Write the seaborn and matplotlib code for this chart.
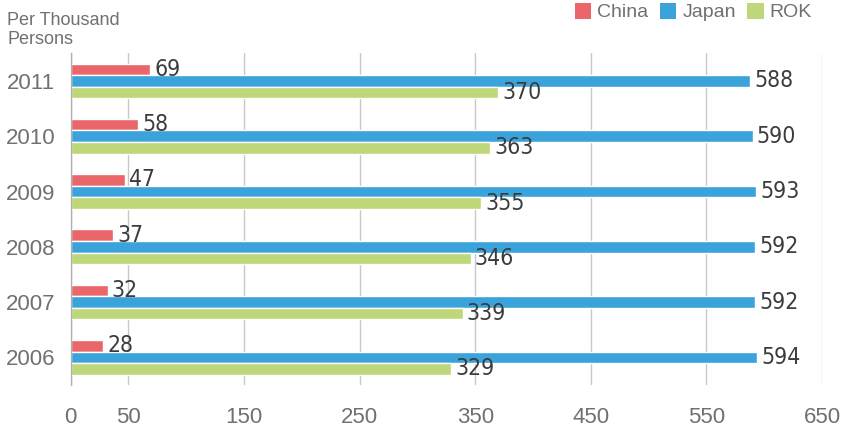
import pandas as pd
import seaborn as sns
import matplotlib.pyplot as plt
from matplotlib.patches import Patch

# values (per thousand persons)
years = ['2011', '2010', '2009', '2008', '2007', '2006']
china = [69, 58, 47, 37, 32, 28]
japan = [588, 590, 593, 592, 592, 594]
rok = [370, 363, 355, 346, 339, 329]
countries = ['China', 'Japan', 'ROK']
colors = ['#EA666A', '#3BA3DC', '#BED778']
xticks = [0, 50, 150, 250, 350, 450, 550, 650]

df = pd.DataFrame({
    'Year': years * 3,
    'Country': ['China'] * 6 + ['Japan'] * 6 + ['ROK'] * 6,
    'Value': china + japan + rok,
})

sns.set_theme(style='white')
plt.rcParams['font.family'] = ['Liberation Sans', 'DejaVu Sans']

fig = plt.figure(figsize=(8.55, 4.3), dpi=100)
ax = fig.add_axes([70.7 / 855, 1 - 385 / 430, (822 - 70.7) / 855, (385 - 53.3) / 430])

sns.barplot(data=df, y='Year', x='Value', hue='Country', order=years,
            hue_order=countries, palette=colors, orient='h', width=0.63,
            gap=0, saturation=1, ax=ax, legend=False)

# value labels at bar ends
for cont in ax.containers:
    ax.bar_label(cont, padding=3, fontsize=16.5, color='#3c3c3c', fontweight='normal',
                 fontstretch='condensed', family=['DejaVu Sans'])

ax.set_xlim(0, 650)
ax.set_ylim(5.5, -0.5)
ax.set_xticks(xticks)
ax.set_xticklabels([str(t) for t in xticks])
ax.xaxis.grid(True, color='#c8c8c8', linewidth=1)
ax.set_axisbelow(True)
for s in ['top', 'right', 'bottom']:
    ax.spines[s].set_visible(False)
ax.spines['left'].set_color('#b0b0b0')
ax.spines['left'].set_linewidth(1)
ax.tick_params(axis='x', length=0, pad=16, labelsize=16, labelcolor='#707070')
ax.tick_params(axis='y', length=0, pad=11, labelsize=16, labelcolor='#707070')
ax.set_xlabel('')
ax.set_ylabel('')

fig.text(7 / 855, 1 - 44 / 430, 'Per Thousand\nPersons', fontsize=13, color='#707070',
         ha='left', va='baseline', linespacing=1.15)

handles = [Patch(facecolor=c, edgecolor='none') for c in colors]
fig.legend(handles, countries, loc='upper right', bbox_to_anchor=(812 / 855, 1 - 3 / 430),
           ncol=3, frameon=False, fontsize=14, labelcolor='#707070',
           borderpad=0, borderaxespad=0,
           handlelength=0.85, handleheight=0.85, handletextpad=0.3, columnspacing=0.6)

fig.savefig('out.png', dpi=100)
